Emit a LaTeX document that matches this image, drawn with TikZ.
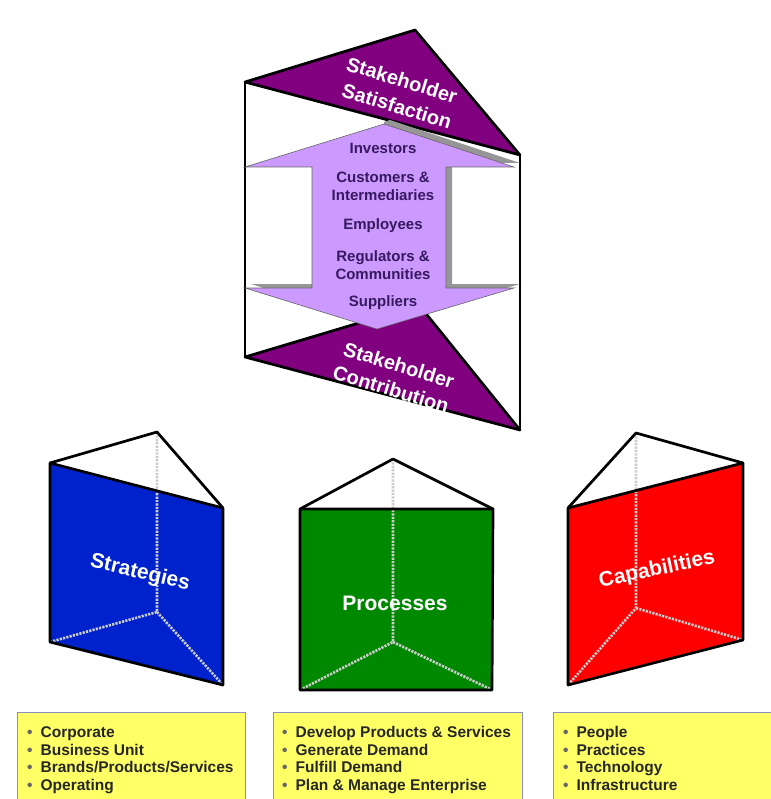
\documentclass[tikz,border=0pt]{standalone}
\usepackage{fontspec}
\setmainfont{Liberation Sans}
\definecolor{purp}{RGB}{128,0,128}
\definecolor{lav}{RGB}{204,153,255}
\definecolor{arrtxt}{RGB}{55,25,95}
\definecolor{sblue}{RGB}{0,34,204}
\definecolor{sgreen}{RGB}{0,136,0}
\definecolor{sred}{RGB}{255,0,0}
\definecolor{boxyel}{RGB}{255,255,102}
\definecolor{boxedge}{RGB}{140,140,200}
\definecolor{hid}{RGB}{205,205,205}
\definecolor{shad}{RGB}{150,150,150}
\begin{document}
\begin{tikzpicture}[x=1pt,y=-1pt,
  edge/.style={draw=black,line width=2.7pt,line join=round},
  hidden/.style={draw=hid,line width=2.6pt,dash pattern=on 2.2pt off 1.2pt},
  plabel/.style={text=white,font=\bfseries\fontsize{21}{25}\selectfont,inner sep=0pt},
  slabel/.style={text=white,font=\bfseries\fontsize{20}{24}\selectfont,inner sep=0pt},
  alabel/.style={text=arrtxt,font=\bfseries\fontsize{15}{18}\selectfont,align=center,inner sep=0pt},
  ybox/.style={draw=boxedge,fill=boxyel,line width=1.2pt,anchor=north west,minimum height=110,inner sep=0pt},
  blist/.style={anchor=north west,inner sep=0pt,text=black!85,font=\bfseries\fontsize{15.5}{17.7}\selectfont}
]
\useasboundingbox (0,0) rectangle (770,799);
\fill[white] (0,0) rectangle (770,799);

% ---------- top prism ----------
\coordinate (tL) at (245,82);
\coordinate (tA) at (415,30);
\coordinate (tR) at (520,155);
\coordinate (bL) at (245,357);
\coordinate (bA) at (419,305);
\coordinate (bR) at (520,430);
\fill[purp] (bL)--(bA)--(bR)--cycle;
\draw[edge] (bL)--(bA)--(bR)--cycle;
\draw[edge] (tL)--(bL);
\draw[edge] (tR)--(bR);
\fill[purp] (tL)--(tA)--(tR)--cycle;
\draw[edge] (tL)--(tA)--(tR)--cycle;

% double arrow with shadow
\begin{scope}
\clip (384,0)--(600,0)--(600,400)--(240,400)--(240,200)--(384,200)--cycle;
\fill[shad,shift={(6,-4)}] (384,124)--(514,167)--(446,167)--(446,288)--(514,288)--(377,329)--(245,288)--(312,288)--(312,167)--(245,167)--cycle;
\end{scope}
\filldraw[fill=lav,draw=black!60,line width=0.6pt] (384,124)--(514,167)--(446,167)--(446,288)--(514,288)--(377,329)--(245,288)--(312,288)--(312,167)--(245,167)--cycle;

\node[alabel] (inv) at (383,148) {Investors};
\node[alabel] (cus) at (383,186) {Customers \&\\Intermediaries};
\node[alabel] (emp) at (383,226) {Employees};
\node[alabel] (reg) at (383,265) {Regulators \&\\Communities};
\node[alabel] (sup) at (383,303) {Suppliers};

\node[slabel,rotate=-17] (sat1) at (402,80) {Stakeholder};
\node[slabel,rotate=-17] (sat2) at (397,106) {Satisfaction};
\node[slabel,rotate=-17] (con1) at (399,365) {Stakeholder};
\node[slabel,rotate=-17] (con2) at (391,389) {Contribution};

% ---------- Strategies prism ----------
\coordinate (sA) at (157,432);
\coordinate (sTL) at (50,463);
\coordinate (sTR) at (223,508);
\coordinate (sBL) at (50,642);
\coordinate (sBR) at (223,685);
\coordinate (sH) at (157,612);
\fill[sblue] (sTL)--(sTR)--(sBR)--(sBL)--cycle;
\draw[hidden] (sA)--(sH)--(sBL);
\draw[hidden] (sH)--(sBR);
\draw[edge] (sTL)--(sA)--(sTR);
\draw[edge] (sTL)--(sTR)--(sBR)--(sBL)--cycle;
\node[plabel,rotate=-13] (strat) at (140,573) {Strategies};

% ---------- Processes prism ----------
\coordinate (pA) at (393,459);
\coordinate (pTL) at (300,509);
\coordinate (pTR) at (493,509);
\coordinate (pBL) at (300,690);
\coordinate (pBR) at (492,690);
\coordinate (pH) at (393,642);
\fill[sgreen] (pTL)--(pTR)--(pBR)--(pBL)--cycle;
\draw[hidden] (pA)--(pH)--(pBL);
\draw[hidden] (pH)--(pBR);
\draw[edge] (pTL)--(pA)--(pTR);
\draw[edge] (pTL)--(pTR)--(pBR)--(pBL)--cycle;
\node[plabel] (proc) at (395,603) {Processes};

% ---------- Capabilities prism ----------
\coordinate (cA) at (636,433);
\coordinate (cTL) at (568,508);
\coordinate (cTR) at (743,463);
\coordinate (cBL) at (568,685);
\coordinate (cBR) at (743,640);
\coordinate (cH) at (636,608);
\fill[sred] (cTL)--(cTR)--(cBR)--(cBL)--cycle;
\draw[hidden] (cA)--(cH)--(cBL);
\draw[hidden] (cH)--(cBR);
\draw[edge] (cTL)--(cA)--(cTR);
\draw[edge] (cTL)--(cTR)--(cBR)--(cBL)--cycle;
\node[plabel,rotate=12] (capa) at (657,570) {Capabilities};

% ---------- yellow boxes ----------
\node[ybox,minimum width=228] (box1) at (17,712) {};
\node[ybox,minimum width=249] (box2) at (273,712) {};
\node[ybox,minimum width=230] (box3) at (553,712) {};

\node[blist] (list1) at (27,725) {\begin{tabular}{@{}l@{\hspace{8pt}}l@{}}
\textcolor{black!60}{\textbullet} & Corporate\\
\textcolor{black!60}{\textbullet} & Business Unit\\
\textcolor{black!60}{\textbullet} & Brands/Products/Services\\
\textcolor{black!60}{\textbullet} & Operating\end{tabular}};
\node[blist] (list2) at (282,725) {\begin{tabular}{@{}l@{\hspace{8pt}}l@{}}
\textcolor{black!60}{\textbullet} & Develop Products \& Services\\
\textcolor{black!60}{\textbullet} & Generate Demand\\
\textcolor{black!60}{\textbullet} & Fulfill Demand\\
\textcolor{black!60}{\textbullet} & Plan \& Manage Enterprise\end{tabular}};
\node[blist] (list3) at (563,725) {\begin{tabular}{@{}l@{\hspace{8pt}}l@{}}
\textcolor{black!60}{\textbullet} & People\\
\textcolor{black!60}{\textbullet} & Practices\\
\textcolor{black!60}{\textbullet} & Technology\\
\textcolor{black!60}{\textbullet} & Infrastructure\end{tabular}};
\end{tikzpicture}
\end{document}
